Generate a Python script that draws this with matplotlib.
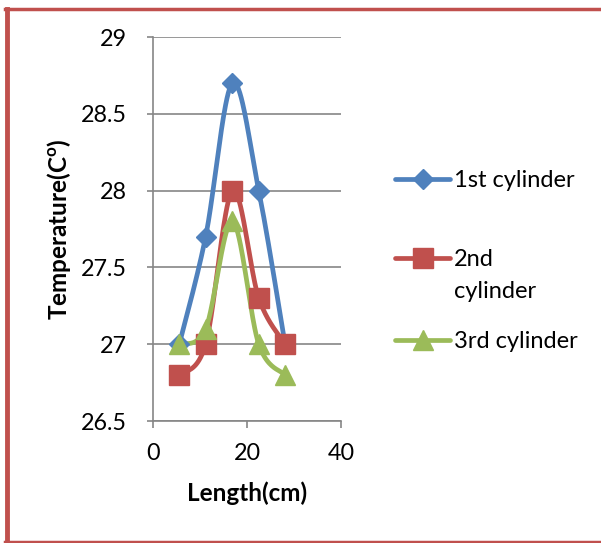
import numpy as np
import matplotlib.pyplot as plt
from matplotlib.lines import Line2D

plt.rcParams["font.family"] = ["Lato", "DejaVu Sans"]
plt.rcParams["mathtext.default"] = "regular"

length_cm = [5.6, 11.2, 16.9, 22.5, 28.1]
cyl1 = [27.0, 27.7, 28.7, 28.0, 27.0]
cyl2 = [26.8, 27.0, 28.0, 27.3, 27.0]
cyl3 = [27.0, 27.1, 27.8, 27.0, 26.8]

series = [
    (["1st cylinder"], cyl1, "#4F81BD", "D", 10.5),
    (["2nd", "cylinder"], cyl2, "#C0504D", "s", 14),
    (["3rd cylinder"], cyl3, "#9BBB59", "^", 14),
]


def smooth(x, y, n=40):
    # Excel-style smoothing: Catmull-Rom via cubic Bezier segments
    x = np.asarray(x, float)
    y = np.asarray(y, float)
    px = np.concatenate([[x[0]], x, [x[-1]]])
    py = np.concatenate([[y[0]], y, [y[-1]]])
    t = np.linspace(0, 1, n)[:, None]
    xs, ys = [], []
    for i in range(1, len(px) - 2):
        p0 = np.array([px[i], py[i]])
        p1 = np.array([px[i + 1], py[i + 1]])
        c0 = p0 + (p1 - np.array([px[i - 1], py[i - 1]])) / 6
        c1 = p1 - (np.array([px[i + 2], py[i + 2]]) - p0) / 6
        b = ((1 - t) ** 3) * p0 + 3 * ((1 - t) ** 2) * t * c0 \
            + 3 * (1 - t) * t ** 2 * c1 + t ** 3 * p1
        xs.append(b[:, 0])
        ys.append(b[:, 1])
    return np.concatenate(xs), np.concatenate(ys)


fig = plt.figure(figsize=(6.01, 5.43), dpi=100)
ax = fig.add_axes([153 / 601, 1 - 421 / 543, 188 / 601, 384 / 543])

for label, vals, color, marker, ms in series:
    sx, sy = smooth(length_cm, vals)
    ax.plot(sx, sy, color=color, lw=3.4, solid_capstyle="round", zorder=3)
    ax.plot(length_cm, vals, linestyle="none", marker=marker, ms=ms,
            color=color, mec=color, zorder=4)

ax.set_xlim(0, 40)
ax.set_ylim(26.5, 29)
ax.set_xticks([0, 20, 40])
ax.set_yticks([26.5, 27, 27.5, 28, 28.5, 29])
ax.set_yticklabels(["26.5", "27", "27.5", "28", "28.5", "29"])
ax.yaxis.grid(True, color="#868686", lw=1.2)
ax.set_axisbelow(True)
for s in ["top", "right"]:
    ax.spines[s].set_visible(False)
for s in ["left", "bottom"]:
    ax.spines[s].set_color("#868686")
    ax.spines[s].set_linewidth(1.2)
ax.tick_params(axis="both", direction="out", width=1.2, color="#868686",
               labelsize=16.8, labelcolor="black")
ax.tick_params(axis="x", length=5, pad=11)
ax.tick_params(axis="y", length=4, pad=14.5)
ax.set_xlabel("Length(cm)", fontsize=17.5, fontweight="bold", va="top")
ax.xaxis.set_label_coords(0.5, -0.157)
ax.set_ylabel("Temperature(C$^{o}$)", fontsize=17.5, fontweight="bold",
              va="center")
ax.yaxis.set_label_coords(-0.5, 0.5)

# legend drawn by hand so the handle sits on the first text line
leg_y = [179, 258, 340]
for (lines, vals, color, marker, ms), yp in zip(series, leg_y):
    yf = 1 - yp / 543
    fig.add_artist(Line2D([395 / 601, 450 / 601], [yf, yf], color=color,
                          lw=3.4, solid_capstyle="round"))
    fig.add_artist(Line2D([422.5 / 601], [yf], color=color, marker=marker,
                          ms=ms, linestyle="none"))
    for k, txt in enumerate(lines):
        fig.text(454 / 601, 1 - (yp + 8 + 32 * k) / 543, txt, fontsize=17,
                 va="baseline", ha="left")

# red frame
red = "#C0504D"
fig.add_artist(Line2D([6.5 / 601, 6.5 / 601], [1 - 8.5 / 543, 1 - 541.5 / 543],
                      color=red, lw=3.5))
fig.add_artist(Line2D([5 / 601, 1.0], [1 - 8.5 / 543, 1 - 8.5 / 543],
                      color=red, lw=2.5))
fig.add_artist(Line2D([5 / 601, 1.0], [1 - 541.5 / 543, 1 - 541.5 / 543],
                      color=red, lw=2.5))

fig.savefig("out.png", dpi=100)
